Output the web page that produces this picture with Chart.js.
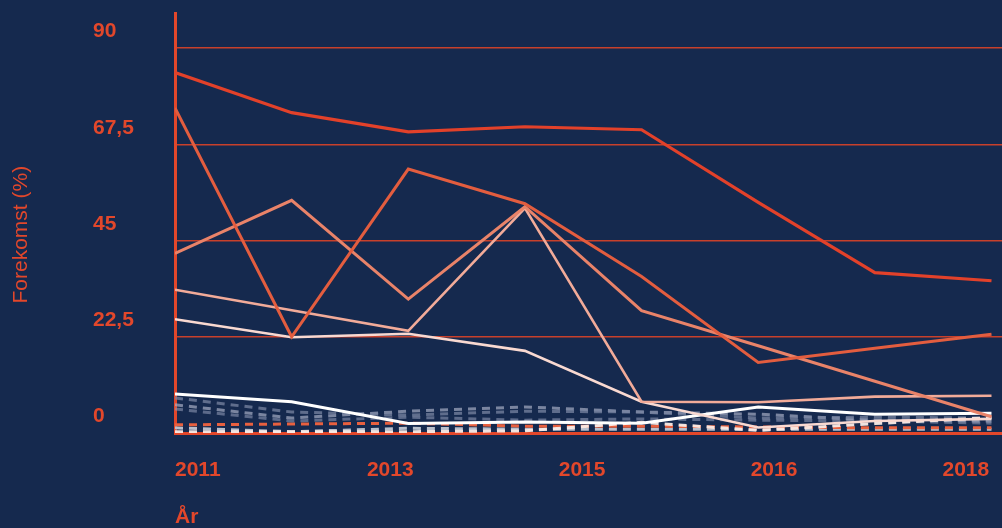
<!DOCTYPE html>
<html><head><meta charset="utf-8">
<script src="https://cdn.jsdelivr.net/npm/chart.js@4.4.1/dist/chart.umd.min.js"></script>
<style>
html,body{margin:0;padding:0;background:#15294e;}
#wrap{width:1002px;height:528px;position:relative;}
</style></head><body><div id="wrap"><canvas id="c"></canvas></div>
<script>
// ---- data ----
const xTickLabels = ['2011', '2013', '2015', '2016', '2018'];
const yTickValues = [0, 22.5, 45, 67.5, 90];
const yTickLabels = ['0', '22,5', '45', '67,5', '90'];

const seriesA = [84.3, 74.9, 70.4, 71.6, 70.9, 53.9, 37.5, 35.6];
const seriesB = [76.0, 22.5, 61.7, 53.6, 36.6, 16.5, 19.8, 23.1];
const seriesC = [42.0, 54.4, 31.3, 52.9, 28.6, 20.4, 12.1, 3.8];
const seriesD = [33.5, 28.7, 23.9, 52.6, 7.3, 7.2, 8.5, 8.7];
const seriesE = [26.6, 22.4, 23.2, 19.2, 7.3, 1.3, 2.8, 3.3];
const seriesF = [9.1, 7.3, 2.2, 2.6, 2.3, 6.1, 4.4, 4.6];

const dashG1 = [8.2, 4.9, 4.2, 5.1, 4.9, 3.5, 3.7, 3.5];
const dashG2 = [6.6, 3.5, 5.1, 6.1, 4.9, 4.4, 3.0, 2.8];
const dashG3 = [5.6, 2.8, 3.7, 3.0, 3.3, 3.0, 2.8, 2.3];
const dashO1 = [1.9, 2.1, 2.3, 1.6, 1.6, 1.4, 1.2, 1.2];
const dashL1 = [1.2, 0.3, 1.1, 0.9, 0.9, 0.9, 0.9, 0.9];
const dashW1 = [0.3, 0.3, 0.3, 0.5, 2.5, 0.6, 2.2, 3.6];

// ---- styles ----
const RED = '#e2472b';
const GRID = 'rgba(220,66,40,0.9)';
const FONT = '"Liberation Sans", Arial, sans-serif';

const styled = [
  [seriesA, '#e2412a', 3.2, null],
  [seriesB, '#e35d3f', 3, null],
  [seriesC, '#e98369', 3, null],
  [seriesD, '#f2ab99', 2.6, null],
  [seriesE, '#f9d9d1', 2.6, null],
  [seriesF, '#ffffff', 3, null],
  [dashW1, 'rgba(250,235,230,0.95)', 3, [8, 6]],
  [dashG1, 'rgba(120,132,162,0.75)', 3, [8, 6]],
  [dashG2, 'rgba(165,172,195,0.7)', 3, [8, 6]],
  [dashG3, 'rgba(140,150,178,0.6)', 3, [8, 6]],
  [dashO1, '#e8603f', 3, [8, 6]],
  [dashL1, '#b9bfcc', 3, [8, 6]]
];

const datasets = styled.map(([vals, color, w, dash]) => ({
  data: vals.map((v, i) => ({x: i, y: v})),
  borderColor: color,
  borderWidth: w,
  borderDash: dash || [],
  pointRadius: 0,
  tension: 0,
  fill: false
}));

new Chart(document.getElementById('c'), {
  type: 'line',
  data: {datasets},
  options: {
    responsive: true,
    maintainAspectRatio: false,
    animation: false,
    layout: {padding: {top: 13, left: 0, right: 0, bottom: 0}},
    plugins: {legend: {display: false}, tooltip: {enabled: false}},
    scales: {
      x: {
        type: 'linear', min: 0, max: 7.09,
        grid: {display: false},
        border: {display: true, color: RED, width: 3},
        afterBuildTicks: s => { s.ticks = xTickLabels.map((l, i) => ({value: i * 1.645})); },
        ticks: {
          autoSkip: false, maxRotation: 0, align: 'start', padding: 3, color: RED,
          font: {family: FONT, size: 21, weight: 'bold', lineHeight: 2.5},
          callback: (v, i) => xTickLabels[i]
        },
        title: {display: true, text: 'År', align: 'start', color: RED, padding: 0,
          font: {family: FONT, size: 21, weight: 'bold', lineHeight: 1}},
        afterFit: s => { s.height = 95; }
      },
      y: {
        type: 'linear', position: 'left', weight: 0, min: 0, max: 98.2,
        afterBuildTicks: s => { s.ticks = yTickValues.map(v => ({value: v})); },
        grid: {color: GRID, lineWidth: 1.5, drawTicks: false},
        border: {display: true, color: RED, width: 3},
        ticks: {
          crossAlign: 'far', labelOffset: -16.6, padding: 0, color: RED,
          font: {family: FONT, size: 21, weight: 'bold', lineHeight: 1},
          callback: (v, i) => yTickLabels[i]
        },
        afterFit: s => { s.width = 82; }
      },
      y2: {
        type: 'linear', position: 'left', weight: 1, min: 0, max: 1,
        grid: {display: false}, border: {display: false}, ticks: {display: false},
        title: {display: true, text: 'Forekomst (%)    ', color: RED, padding: {top: 9, bottom: 0},
          font: {family: FONT, size: 21, weight: 'normal', lineHeight: 1.2}},
        afterFit: s => { s.width = 93; }
      }
    }
  }
});
</script></body></html>
